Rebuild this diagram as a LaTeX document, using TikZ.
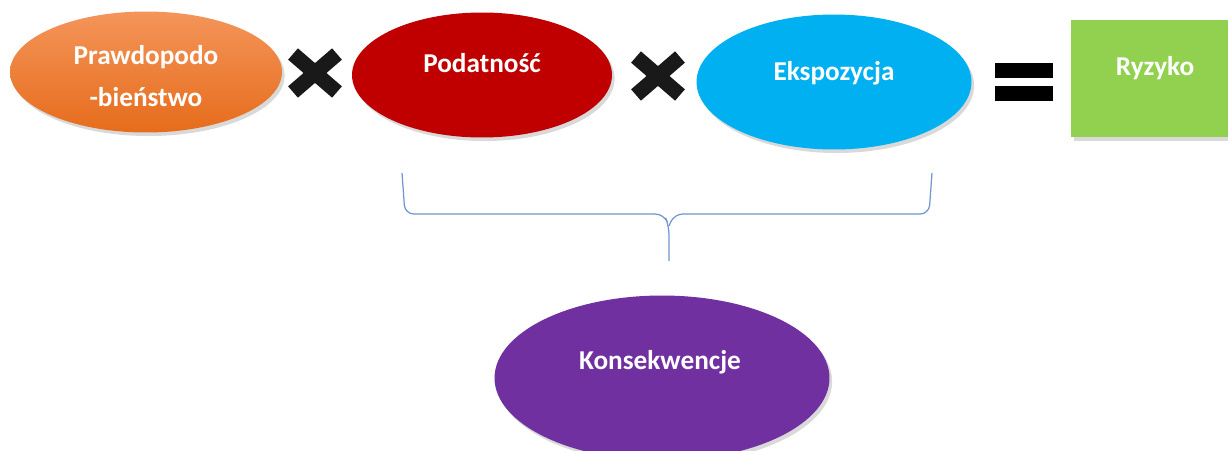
\documentclass[tikz,border=0pt]{standalone}
\usepackage{fontspec}
\setmainfont{Carlito}
\usetikzlibrary{shapes.geometric,shapes.misc,shadows}

\definecolor{probtop}{HTML}{F4955A}
\definecolor{probbot}{HTML}{E66C1C}
\definecolor{vulnred}{HTML}{C00000}
\definecolor{expblue}{HTML}{00B0F0}
\definecolor{riskgreen}{HTML}{92D050}
\definecolor{conspurple}{HTML}{7030A0}
\definecolor{braceblue}{HTML}{6F95D2}

\begin{document}
\begin{tikzpicture}[
            x = 0.02cm, y = -0.02cm, % one unit = one pixel
            blob/.style = {ellipse, inner sep=0pt,
                drop shadow={opacity=0.3, shadow xshift=1.5pt, shadow yshift=-2pt}},
            word/.style = {text=white, align=center,
                font=\bfseries\fontsize{15.5}{24}\selectfont},
            mult/.style = {cross out, draw=black!90, line width=0.3cm,
                minimum width=0.58cm, minimum height=0.46cm, inner sep=0pt},
            eqbar/.style = {rectangle, fill=black, inner sep=0pt,
                minimum width=1.16cm, minimum height=0.3cm},
            brace/.style = {draw=braceblue, line width=0.7pt, rounded corners=5pt}
        ]

	\useasboundingbox (0,0) rectangle (1228,450);

	% factors
	\node[blob, top color=probtop, bottom color=probbot,
	      minimum width=5.44cm, minimum height=2.42cm] (prob) at (146,72) {};
	\node[word] (probtxt) at (146,76) {Prawdopodo\\-bieństwo};

	\node[mult] (x1) at (315,73) {};

	\node[blob, fill=vulnred, minimum width=5.2cm, minimum height=2.5cm] (vuln) at (482,75) {};
	\node[word] (vulntxt) at (482,63) {Podatność};

	\node[mult] (x2) at (658,76) {};

	\node[blob, fill=expblue, minimum width=5.5cm, minimum height=2.7cm] (exp) at (834,82) {};
	\node[word] (exptxt) at (834,73) {Ekspozycja};

	% equals
	\node[eqbar] (eq1) at (1024,70) {};
	\node[eqbar] (eq2) at (1024,93) {};

	\node[rectangle, fill=riskgreen, minimum width=3.4cm, minimum height=2.34cm,
	      drop shadow={opacity=0.3, shadow xshift=1.5pt, shadow yshift=-2pt}] (risk) at (1156,78.5) {};
	\node[word] (risktxt) at (1155,68) {Ryzyko};

	% brace
	\coordinate (bl) at (402,173);
	\coordinate (br) at (932,173);
	\coordinate (tip) at (669,261);
	\draw[brace] (bl) -- (405,214) -- (664,214) -- (669,226) -- (tip);
	\draw[brace] (br) -- (929,214) -- (674,214) -- (669,226);

	\node[blob, fill=conspurple, minimum width=6.7cm, minimum height=3.3cm] (cons) at (662,378) {};
	\node[word] (constxt) at (660,362) {Konsekwencje};

\end{tikzpicture}
\end{document}
